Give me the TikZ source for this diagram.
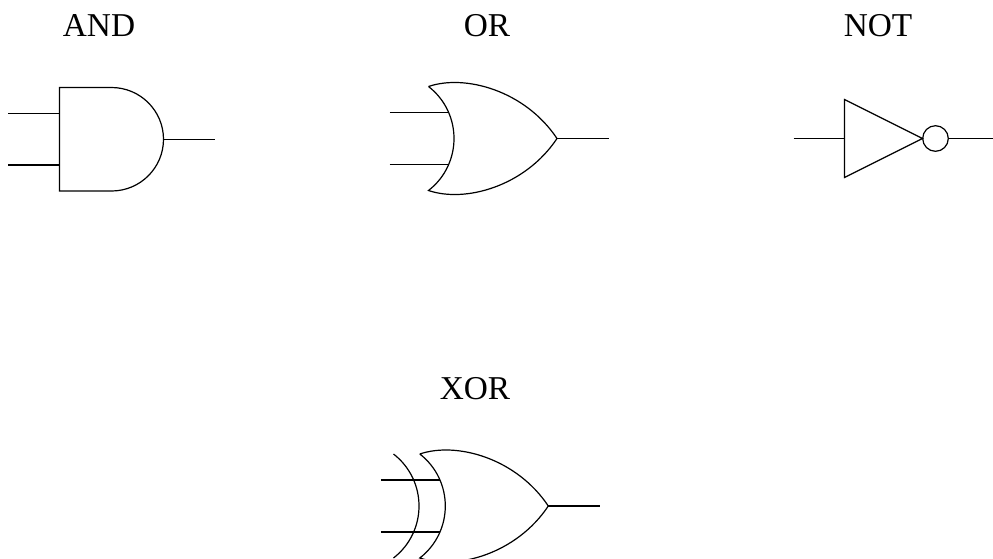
\documentclass[tikz,border=0pt]{standalone}
\usepackage{fontspec}
\setmainfont{Liberation Serif}
\tikzset{
  wire/.style={draw=black,line width=0.9pt},
  gatebody/.style={draw=black,line width=0.9pt,line join=miter},
  gatelabel/.style={font=\fontsize{25pt}{30pt}\selectfont,inner sep=0pt,anchor=base},
  bubble/.style={circle,draw=black,line width=0.9pt,minimum size=19.2pt,inner sep=0pt}
}
\newcommand{\orbody}[2]{%
  \begin{scope}[shift={(#1,#2)}]
    \coordinate (tipT) at (-128.5,-52);
    \coordinate (tipB) at (-128.5,52);
    \coordinate (apex) at (0,0);
    \draw[gatebody] (tipT) .. controls (-92,-64.5) and (-32,-48) .. (apex)
      .. controls (-32,48) and (-92,64.5) .. (tipB)
      .. controls (-94.5,25.6) and (-94.5,-25.6) .. (tipT);
    \coordinate (in1) at (-167.5,-26);
    \coordinate (in1e) at (-108.5,-26);
    \coordinate (in2) at (-167.5,26);
    \coordinate (in2e) at (-108.5,26);
    \coordinate (out) at (52,0);
    \draw[wire] (in1) -- (in1e);
    \draw[wire] (in2) -- (in2e);
    \draw[wire] (apex) -- (out);
  \end{scope}}
\begin{document}
\begin{tikzpicture}[x=0.75pt,y=-0.75pt]
\useasboundingbox (0,0) rectangle (993,558);
\clip (0,0) rectangle (993,558);
\fill[white] (0,0) rectangle (993,558);
% AND
\node[gatelabel] (andlabel) at (99,36) {AND};
\coordinate (andTL) at (59.5,87.5);
\coordinate (andBL) at (59.5,191);
\coordinate (andTR) at (111.5,87.5);
\coordinate (andBR) at (111.5,191);
\coordinate (andOut) at (163.5,139.25);
\draw[gatebody] (andTL) -- (andTR) .. controls (140.2,87.5) and (163.5,110.7) .. (andOut)
  .. controls (163.5,167.8) and (140.2,191) .. (andBR) -- (andBL) -- cycle;
\coordinate (andA) at (8,113.5);
\coordinate (andAe) at (59.5,113.5);
\coordinate (andB) at (8,165);
\coordinate (andBe) at (59.5,165);
\coordinate (andZ) at (214.5,139.25);
\draw[wire] (andA) -- (andAe);
\draw[wire] (andB) -- (andBe);
\draw[wire] (andOut) -- (andZ);
% OR
\node[gatelabel] (orlabel) at (487,36) {OR};
\orbody{557}{138.5}
% NOT
\node[gatelabel] (notlabel) at (878,36) {NOT};
\coordinate (notT) at (844.5,99.5);
\coordinate (notB) at (844.5,177.5);
\coordinate (notApex) at (922.5,138.5);
\coordinate (notIn) at (793.5,138.5);
\coordinate (notInE) at (844.5,138.5);
\coordinate (notZ) at (993,138.5);
\draw[gatebody] (notT) -- (notApex) -- (notB) -- cycle;
\node[bubble] (notBubble) at (935.5,138.5) {};
\draw[wire] (notIn) -- (notInE);
\draw[wire] (notBubble.east) -- (notZ);
% XOR
\node[gatelabel] (xorlabel) at (475,399) {XOR};
\orbody{548.3}{506}
\coordinate (xt) at (393.5,454);
\coordinate (xb) at (393.5,558);
\draw[gatebody] (xt) .. controls (427.5,480.4) and (427.5,531.6) .. (xb);
\end{tikzpicture}
\end{document}
